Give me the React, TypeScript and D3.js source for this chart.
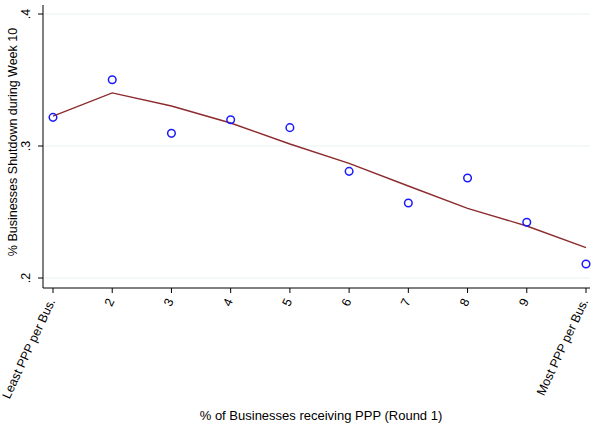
import React from "react";
import * as d3 from "d3";

const bins = [1, 2, 3, 4, 5, 6, 7, 8, 9, 10];
const shutdownShare = [0.3217, 0.3502, 0.3096, 0.3199, 0.3139, 0.2808, 0.2568, 0.2758, 0.2422, 0.2106];
const fittedShare = [0.3227, 0.3402, 0.3303, 0.3174, 0.3015, 0.2869, 0.2697, 0.2528, 0.2394, 0.2230];
const xTickLabels = ["Least PPP per Bus.", "2", "3", "4", "5", "6", "7", "8", "9", "Most PPP per Bus."];
const yTicks = [0.2, 0.3, 0.4];
const yTickLabels = [".2", ".3", ".4"];

export default function App() {
  const W = 592, H = 427;
  const left = 43, right = 590, top = 5, bottom = 288;
  const x = d3.scaleLinear().domain([1, 10]).range([53, 586]);
  const y = d3.scaleLinear().domain([0.2, 0.4]).range([278, 14]);
  const line = d3.line<number>().x((_, i) => x(bins[i])).y((d) => y(d));
  const font = "Liberation Sans, Arial, Helvetica, sans-serif";
  return (
    <svg width={W} height={H} style={{ position: "absolute", left: 0, top: 0, background: "#fff" }} fontFamily={font}>
      <rect width={W} height={H} fill="#fff" />
      {yTicks.map((t) => (
        <line key={"g" + t} x1={left} x2={right} y1={y(t)} y2={y(t)} stroke="#eaf2f3" strokeWidth={1.2} />
      ))}
      <line x1={left} x2={left} y1={top} y2={bottom} stroke="#000" strokeWidth={1} />
      <line x1={left} x2={right} y1={bottom} y2={bottom} stroke="#000" strokeWidth={1} />
      {yTicks.map((t, i) => (
        <g key={"y" + t}>
          <line x1={left - 5} x2={left} y1={y(t)} y2={y(t)} stroke="#000" />
          <text transform={`translate(${left - 13},${y(t)}) rotate(-90)`} textAnchor="middle" fontSize={12.5} fill="#000">
            {yTickLabels[i]}
          </text>
        </g>
      ))}
      {bins.map((b, i) => (
        <g key={"x" + b}>
          <line x1={x(b)} x2={x(b)} y1={bottom} y2={bottom + 5} stroke="#000" />
          <text transform={`translate(${x(b) + 2.5},${bottom + 13}) rotate(-65)`} textAnchor="end" fontSize={12.5} fill="#000">
            {xTickLabels[i]}
          </text>
        </g>
      ))}
      <text transform={`translate(17,142) rotate(-90)`} textAnchor="middle" fontSize={12.5} fill="#000">
        % Businesses Shutdown during Week 10
      </text>
      <text x={321} y={420} textAnchor="middle" fontSize={13} fill="#000">
        % of Businesses receiving PPP (Round 1)
      </text>
      <path d={line(fittedShare) || ""} fill="none" stroke="#8c2b2e" strokeWidth={1.4} />
      {shutdownShare.map((v, i) => (
        <circle key={"p" + i} cx={x(bins[i])} cy={y(v)} r={3.8} fill="none" stroke="#1a1aff" strokeWidth={1.5} />
      ))}
    </svg>
  );
}
